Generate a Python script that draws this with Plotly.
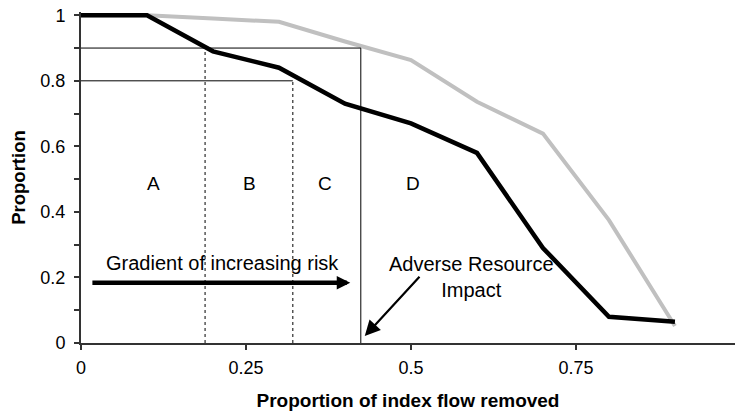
import plotly.graph_objects as go

# ---- data ----
flow_removed = [0.0, 0.1, 0.2, 0.3, 0.4, 0.5, 0.6, 0.7, 0.8, 0.9]
black_series = [1.0, 1.0, 0.89, 0.84, 0.73, 0.67, 0.58, 0.29, 0.08, 0.065]
gray_series = [1.0, 1.0, 0.99, 0.98, 0.92, 0.863, 0.736, 0.639, 0.375, 0.052]

x_tick_vals = [0, 0.25, 0.5, 0.75]
x_tick_text = ["0", "0.25", "0.5", "0.75"]
y_tick_vals = [0, 0.2, 0.4, 0.6, 0.8, 1.0]
y_tick_text = ["0", "0.2", "0.4", "0.6", "0.8", "1"]
y_minor_vals = [0.1, 0.3, 0.5, 0.7, 0.9]

# threshold lines: (proportion level, x where it stops)
threshold_levels = [0.9, 0.8]
threshold_ends = [0.424, 0.321]
# boundaries between zones: x, top y, dash style
boundary_x = [0.188, 0.321, 0.424]
boundary_top = [0.9, 0.8, 0.9]
boundary_dash = ["dot", "dot", "solid"]

zone_labels = ["A", "B", "C", "D"]
zone_label_x = [0.11, 0.256, 0.37, 0.503]
zone_label_y = 0.486

gradient_text = "Gradient of increasing risk"
gradient_pos = (0.035, 0.244)
gradient_arrow_from = (0.015, 0.184)
gradient_arrow_to = (0.408, 0.184)

impact_text = "Adverse Resource<br>Impact"
impact_pos = (0.592, 0.202)
impact_arrow_from = (0.515, 0.207)
impact_arrow_to = (0.43, 0.021)

FONT = "Liberation Sans, Arial, sans-serif"
AX = "#333333"

fig = go.Figure()
fig.add_trace(go.Scatter(x=flow_removed, y=gray_series, mode="lines",
                         line=dict(color="#c0c0c0", width=4), showlegend=False,
                         hoverinfo="skip"))
fig.add_trace(go.Scatter(x=flow_removed, y=black_series, mode="lines",
                         line=dict(color="black", width=4.5), showlegend=False,
                         hoverinfo="skip"))

shapes = []
for lvl, xe in zip(threshold_levels, threshold_ends):
    shapes.append(dict(type="line", xref="x", yref="y", x0=0, x1=xe, y0=lvl, y1=lvl,
                       line=dict(color="black", width=1)))
for bx, bt, bd in zip(boundary_x, boundary_top, boundary_dash):
    shapes.append(dict(type="line", xref="x", yref="y", x0=bx, x1=bx, y0=0, y1=bt,
                       line=dict(color="black", width=1, dash=bd)))

annotations = []
for lab, lx in zip(zone_labels, zone_label_x):
    annotations.append(dict(x=lx, y=zone_label_y, xref="x", yref="y", text=lab,
                            showarrow=False, font=dict(size=19, color="black", family=FONT)))
annotations.append(dict(x=gradient_pos[0], y=gradient_pos[1], xref="x", yref="y",
                        text=gradient_text, showarrow=False, xanchor="left",
                        font=dict(size=20, color="black", family=FONT)))
annotations.append(dict(x=impact_pos[0], y=impact_pos[1], xref="x", yref="y",
                        text=impact_text, showarrow=False, align="center",
                        font=dict(size=20, color="black", family=FONT)))
annotations.append(dict(x=gradient_arrow_to[0], y=gradient_arrow_to[1],
                        ax=gradient_arrow_from[0], ay=gradient_arrow_from[1],
                        xref="x", yref="y", axref="x", ayref="y", text="",
                        showarrow=True, arrowhead=2, arrowwidth=4.5, arrowsize=0.6,
                        arrowcolor="black"))
annotations.append(dict(x=impact_arrow_to[0], y=impact_arrow_to[1],
                        ax=impact_arrow_from[0], ay=impact_arrow_from[1],
                        xref="x", yref="y", axref="x", ayref="y", text="",
                        showarrow=True, arrowhead=2, arrowwidth=2.2, arrowsize=1.4,
                        arrowcolor="black"))

fig.update_layout(
    width=735, height=411,
    margin=dict(l=81, r=0, t=12, b=68),
    paper_bgcolor="white", plot_bgcolor="white",
    font=dict(family=FONT, size=18, color="black"),
    shapes=shapes, annotations=annotations,
    showlegend=False,
)
fig.update_xaxes(range=[0, 0.991], tickvals=x_tick_vals, ticktext=x_tick_text,
                 automargin=False, ticklabeloverflow="allow",
                 showgrid=False, zeroline=False, showline=True, linecolor=AX, linewidth=2,
                 ticks="outside", ticklen=5, tickwidth=2, tickcolor=AX,
                 ticklabelstandoff=2,
                 title=dict(text="Proportion of index flow removed", standoff=17,
                            font=dict(size=19, weight="bold", family=FONT)))
fig.update_yaxes(range=[0, 1.01], tickvals=y_tick_vals, ticktext=y_tick_text,
                 automargin=False, ticklabeloverflow="allow",
                 showgrid=False, zeroline=False, showline=True, linecolor=AX, linewidth=2,
                 ticks="outside", ticklen=5, tickwidth=2, tickcolor=AX,
                 ticklabelstandoff=5,
                 minor=dict(tickvals=y_minor_vals, ticks="outside", ticklen=5,
                            tickwidth=2, tickcolor=AX, showgrid=False),
                 title=dict(text="Proportion", standoff=10,
                            font=dict(size=18.5, weight="bold", family=FONT)))

# remove the browser's default 8px body margin so the figure fills the window exactly
fig.write_html("out.html", config={"displayModeBar": False},
               post_script="document.body.style.margin='0';")
